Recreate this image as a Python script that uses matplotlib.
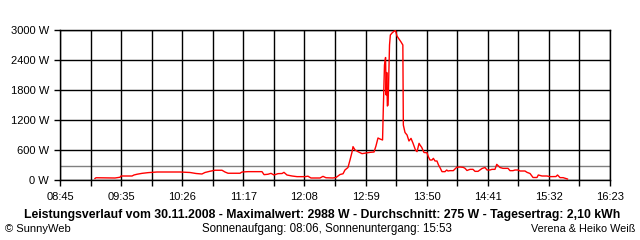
import matplotlib
matplotlib.use("Agg")
import matplotlib.pyplot as plt

plt.rcParams['font.family'] = ['Liberation Sans', 'DejaVu Sans']

# Zeit in Minuten seit Mitternacht, Leistung in W
minutes = [554.1, 555.0, 564.1, 570.8, 575.0, 575.8, 585.0, 586.6, 589.1, 593.3,
           598.3, 605.8, 624.9, 633.3, 638.3, 643.2, 645.7, 649.9, 654.1, 659.9,
           662.4, 664.9, 674.9, 676.6, 681.6, 693.2, 694.9, 698.2, 700.7, 703.2,
           706.5, 709.9, 711.5, 714.0, 718.2, 722.4, 729.0, 731.5, 734.0, 741.5,
           744.0, 746.5, 752.3, 754.8, 758.2, 760.7, 762.3, 764.8, 766.5, 768.2,
           769.0, 770.7, 773.1, 776.5, 779.8, 783.1, 786.5, 788.1, 789.8, 791.5,
           793.6, 794.2, 795.2, 796.1, 796.6, 797.1, 797.6, 798.2, 798.8, 799.4,
           800.1, 801.5, 803.1, 804.4, 805.6, 807.3, 809.0, 810.5, 810.9, 812.3,
           814.0, 815.6, 817.3, 819.0, 821.0, 822.3, 824.0, 824.8, 826.2, 828.1,
           830.6, 831.7, 833.1, 834.8, 835.9, 837.3, 838.9, 840.2, 841.4, 843.1,
           845.6, 847.0, 848.1, 849.8, 852.5, 855.3, 858.1, 860.8, 862.3, 863.9,
           866.4, 868.9, 870.6, 873.1, 876.4, 878.9, 880.6, 883.1, 884.7, 887.2,
           888.7, 891.4, 893.9, 898.1, 899.7, 902.2, 903.9, 906.4, 908.1, 912.2,
           913.9, 916.4, 918.9, 922.2, 923.3, 924.7, 926.4, 930.5, 933.0, 938.0,
           939.3, 941.4, 943.9, 945.5, 947.6]
watts = [30, 45, 42, 40, 55, 80, 80, 100, 115, 133,
         147, 160, 160, 150, 130, 120, 150, 175, 195, 195,
         160, 135, 135, 160, 167, 167, 107, 115, 133, 100,
         127, 130, 153, 100, 80, 67, 67, 76, 40, 40,
         73, 45, 40, 50, 110, 125, 200, 250, 400, 560,
         667, 600, 567, 527, 540, 553, 560, 680, 840, 820,
         800, 1400, 2300, 2450, 1700, 2150, 1480, 1500, 2100, 2700,
         2900, 2940, 2975, 2988, 2880, 2820, 2760, 2700, 1100, 950,
         900, 780, 833, 733, 600, 567, 733, 700, 653, 550,
         545, 467, 400, 400, 433, 380, 380, 300, 250, 167,
         167, 200, 180, 187, 187, 253, 260, 253, 233, 190,
         213, 213, 173, 173, 230, 250, 200, 200, 213, 213,
         313, 250, 233, 233, 187, 187, 200, 200, 180, 180,
         153, 130, 50, 50, 100, 90, 80, 80, 67, 69,
         100, 47, 47, 35, 20]

average = 275
x_labels = ["08:45", "09:35", "10:26", "11:17", "12:08", "12:59",
            "13:50", "14:41", "15:32", "16:23"]
y_ticks = [0, 600, 1200, 1800, 2400, 3000]
t_start, t_end = 525, 983

fig = plt.figure(figsize=(6.4, 2.4), dpi=100)
ax = fig.add_axes([60 / 640, 60 / 240, 550 / 640, 150 / 240])

step = (t_end - t_start) / 18
grid_x = [t_start + i * step for i in range(19)]
for gx in grid_x:
    ax.axvline(gx, color="black", lw=1, zorder=2)
for gy in y_ticks:
    ax.axhline(gy, color="black", lw=1, zorder=2)
ax.axhline(average, color="#808080", lw=1, zorder=1)

ax.plot(minutes, watts, color="#ff0000", lw=1, zorder=3)

ax.set_xlim(t_start, t_end)
ax.set_ylim(0, 3000)
ax.set_xticks(grid_x)
ax.set_xticklabels([x_labels[i // 2] if i % 2 == 0 else "" for i in range(19)])
ax.set_yticks(y_ticks)
ax.set_yticklabels([f"{v} W" for v in y_ticks])
ax.tick_params(axis="both", direction="out", length=4, width=1, color="black",
               labelsize=8)
ax.tick_params(axis="x", pad=5)
ax.tick_params(axis="y", pad=4)
for s in ax.spines.values():
    s.set_linewidth(1)
    s.set_color("black")

fig.text(322 / 640, 1 - 215 / 240,
         "Leistungsverlauf vom 30.11.2008 - Maximalwert: 2988 W - Durchschnitt: 275 W - Tagesertrag: 2,10 kWh",
         ha="center", va="center", fontsize=8.8, fontweight="bold")
fig.text(5 / 640, 1 - 229 / 240, "© SunnyWeb", ha="left", va="center", fontsize=8)
fig.text(327 / 640, 1 - 229 / 240, "Sonnenaufgang: 08:06, Sonnenuntergang: 15:53",
         ha="center", va="center", fontsize=8.3)
fig.text(635 / 640, 1 - 229 / 240, "Verena & Heiko Weiß", ha="right", va="center",
         fontsize=7.8)

fig.savefig("out.png", dpi=100)
